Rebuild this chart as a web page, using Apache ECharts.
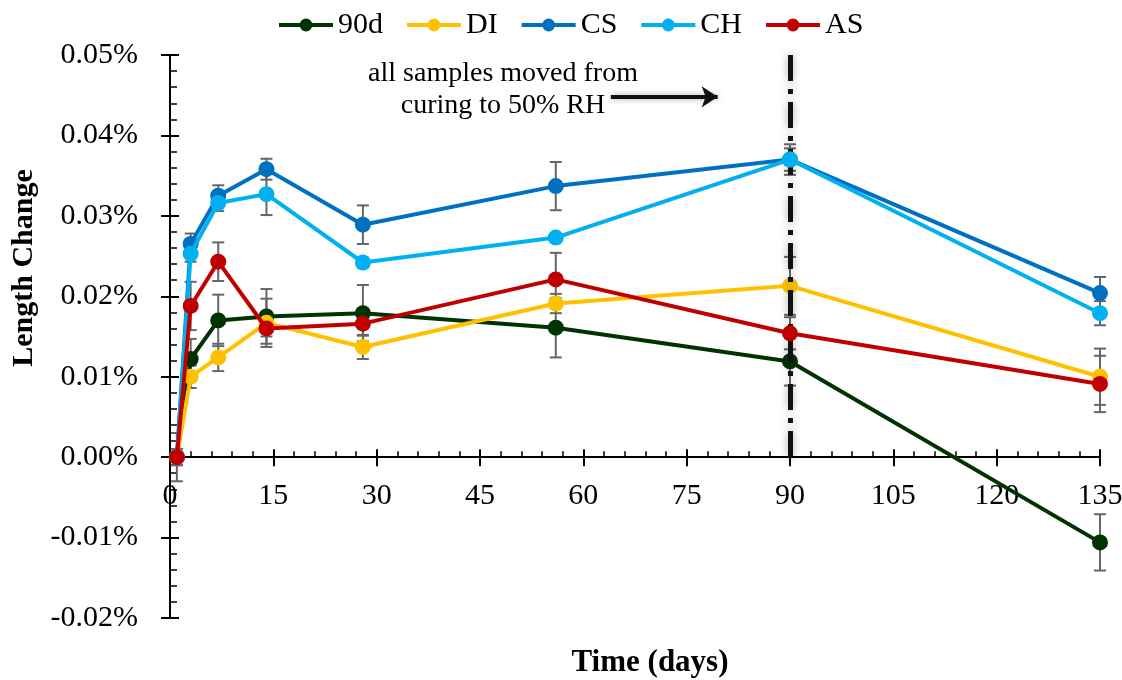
<!DOCTYPE html>
<html><head><meta charset="utf-8">
<script src="https://cdn.jsdelivr.net/npm/echarts@6/dist/echarts.min.js"></script>
<style>html,body{margin:0;padding:0;background:#fff}#c{width:1122px;height:680px}</style>
</head><body><div id="c"></div>
<script>
// ---- data ----
const days = [1, 3, 7, 14, 28, 56, 90, 135];
const seriesNames = ['90d', 'DI', 'CS', 'CH', 'AS'];
const val90d = [0, 0.0122, 0.0170, 0.0175, 0.0179, 0.0161, 0.0119, -0.0106];
const valDI  = [0, 0.0100, 0.0124, 0.0167, 0.0137, 0.0191, 0.0213, 0.0100];
const valCS  = [0, 0.0265, 0.0325, 0.0358, 0.0289, 0.0337, 0.0370, 0.0204];
const valCH  = [0, 0.0253, 0.0316, 0.0327, 0.0242, 0.0273, 0.0370, 0.0179];
const valAS  = [0, 0.0188, 0.0243, 0.0160, 0.0166, 0.0221, 0.0154, 0.0091];
const err90d = [0.0010, 0.0025, 0.0032, 0.0034, 0.0035, 0.0037, 0.0030, 0.0035];
const errDI  = [0.0010, 0.0014, 0.0017, 0.0030, 0.0015, 0.0012, 0.0036, 0.0035];
const errCS  = [0.0005, 0.0013, 0.0013, 0.0013, 0.0024, 0.0030, 0.0019, 0.0020];
const errCH  = [0.0005, 0.0010, 0.0010, 0.0026, 0.0006, 0.0004, 0.0014, 0.0015];
const errAS  = [0.0030, 0.0030, 0.0024, 0.0010, 0.0015, 0.0033, 0.0020, 0.0035];
const xMin = 0, xMax = 135, xStep = 15;
const yMin = -0.02, yMax = 0.05, yStep = 0.01;
const transitionDay = 90;
const annotationLines = ['all samples moved from', 'curing to 50% RH'];
const arrowFrom = [64, 0.0448];
const arrowTo = [79.5, 0.0448];
const xTitle = 'Time (days)';
const yTitle = 'Length Change';

// ---- styles ----
const colors = ['#003300', '#FFC000', '#0070C0', '#00B0F0', '#C00000'];
const FONT = "'Liberation Serif','Times New Roman',serif";
const values = [val90d, valDI, valCS, valCH, valAS];
const errors = [err90d, errDI, errCS, errCH, errAS];

function renderErr(params, api) {
  const x = api.value(0), lo = api.value(1), hi = api.value(2);
  const p1 = api.coord([x, hi]), p2 = api.coord([x, lo]);
  const w = 6, st = {stroke: '#666666', lineWidth: 2};
  return {type: 'group', children: [
    {type: 'line', shape: {x1: p1[0], y1: p1[1], x2: p2[0], y2: p2[1]}, style: st},
    {type: 'line', shape: {x1: p1[0] - w, y1: p1[1], x2: p1[0] + w, y2: p1[1]}, style: st},
    {type: 'line', shape: {x1: p2[0] - w, y1: p2[1], x2: p2[0] + w, y2: p2[1]}, style: st}
  ]};
}

const series = [];
seriesNames.forEach((n, k) => {
  series.push({
    type: 'custom', name: n + ' err', renderItem: renderErr, z: 1, silent: true,
    encode: {x: 0, y: [1, 2]},
    data: days.map((d, i) => [d, values[k][i] - errors[k][i], values[k][i] + errors[k][i]])
  });
});
seriesNames.forEach((n, k) => {
  series.push({
    type: 'line', name: n, z: 3 + k,
    data: days.map((d, i) => [d, values[k][i]]),
    symbol: 'circle', symbolSize: 16,
    itemStyle: {color: colors[k]},
    lineStyle: {color: colors[k], width: 4}
  });
});
series.push({
  type: 'line', name: 'ref', data: [], z: 10, silent: true,
  markLine: {
    silent: true, animation: false, symbol: ['none', 'none'], label: {show: false},
    data: [
      [{coord: [transitionDay, yMax], lineStyle: {color: '#111', width: 5, type: [26, 8, 5, 8], shadowColor: 'rgba(0,0,0,0.35)', shadowBlur: 8}},
       {coord: [transitionDay, -0.0005]}],
      [{coord: arrowFrom, symbol: 'none', lineStyle: {color: '#111', width: 4, type: 'solid', shadowColor: 'rgba(0,0,0,0.35)', shadowBlur: 6}},
       {coord: arrowTo, symbol: 'arrow', symbolSize: 16}]
    ]
  }
});

const axisLineStyle = {color: '#000', width: 2};
const option = {
  animation: false,
  color: colors,
  legend: {
    data: seriesNames, top: 5, left: 272, itemGap: 22, itemWidth: 54, itemHeight: 16,
    lineStyle: {width: 4},
    textStyle: {fontFamily: FONT, fontSize: 30, color: '#000'}
  },
  grid: {left: 170, right: 22, top: 55, bottom: 62, outerBoundsMode: 'none', containLabel: false},
  xAxis: [
    {type: 'value', min: xMin, max: xMax, interval: xStep,
     axisLine: {show: true, onZero: true, onZeroAxisIndex: 0, lineStyle: axisLineStyle},
     axisTick: {show: true, inside: true, length: 8, lineStyle: axisLineStyle},
     minorTick: {show: true, splitNumber: 5, length: 6, lineStyle: {color: '#000', width: 1.5}},
     splitLine: {show: false},
     axisLabel: {fontFamily: FONT, fontSize: 30, color: '#000', margin: -137, showMaxLabel: true, showMinLabel: true},
     name: xTitle, nameLocation: 'middle', nameGap: 29, nameMoveOverlap: false,
     nameTextStyle: {fontFamily: FONT, fontSize: 31, fontWeight: 'bold', color: '#000', padding: [0, 0, 0, 30]}},
    {type: 'value', min: xMin, max: xMax, interval: xStep, position: 'bottom',
     axisLine: {show: false, onZero: true, onZeroAxisIndex: 0},
     axisTick: {show: true, inside: false, length: 9, lineStyle: axisLineStyle},
     axisLabel: {show: false}, splitLine: {show: false}}
  ],
  yAxis: [
    {type: 'value', min: yMin, max: yMax, interval: yStep, position: 'left',
     axisLine: {show: true, onZero: false, lineStyle: axisLineStyle},
     axisTick: {show: true, inside: true, length: 9, lineStyle: axisLineStyle},
     minorTick: {show: true, splitNumber: 5, length: 7, lineStyle: {color: '#000', width: 1.5}},
     splitLine: {show: false},
     axisLabel: {fontFamily: FONT, fontSize: 30, color: '#000', margin: 32,
       formatter: v => v.toFixed(2) + '%'}},
    {type: 'value', min: yMin, max: yMax, interval: yStep, position: 'left',
     axisLine: {show: false, onZero: false},
     axisTick: {show: true, inside: false, length: 9, lineStyle: axisLineStyle},
     axisLabel: {show: false}, splitLine: {show: false}}
  ],
  graphic: [{
    type: 'text', x: 503, y: 58, z: 20,
    style: {text: annotationLines.join('\n'), font: "28px 'Liberation Serif'", textAlign: 'center', lineHeight: 32, fill: '#000'}
  }, {
    type: 'text', x: 24, y: 268, rotation: Math.PI / 2, z: 20,
    style: {text: yTitle, font: "bold 30px 'Liberation Serif'", textAlign: 'center', textVerticalAlign: 'middle', fill: '#000'}
  }],
  series: series
};
const chart = echarts.init(document.getElementById('c'), null, {renderer: 'canvas'});
chart.setOption(option);
</script></body></html>
